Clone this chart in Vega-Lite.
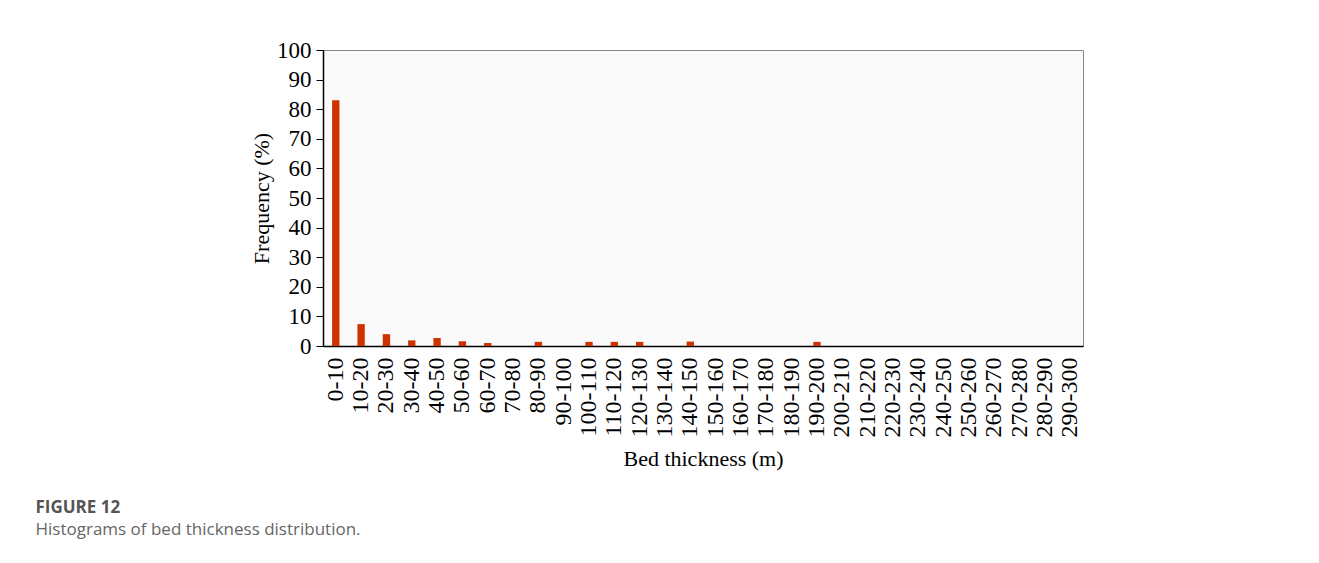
{
  "$schema": "https://vega.github.io/schema/vega-lite/v6.json",
  "width": 760,
  "height": 296,
  "autosize": {"type": "none"},
  "padding": {"left": 323, "top": 50, "right": 236, "bottom": 217},
  "background": "white",
  "data": {
    "values": [
      {"bin": "0-10", "freq": 83.0},
      {"bin": "10-20", "freq": 7.4},
      {"bin": "20-30", "freq": 4.0},
      {"bin": "30-40", "freq": 1.9},
      {"bin": "40-50", "freq": 2.7},
      {"bin": "50-60", "freq": 1.6},
      {"bin": "60-70", "freq": 1.0},
      {"bin": "70-80", "freq": 0},
      {"bin": "80-90", "freq": 1.4},
      {"bin": "90-100", "freq": 0},
      {"bin": "100-110", "freq": 1.4},
      {"bin": "110-120", "freq": 1.4},
      {"bin": "120-130", "freq": 1.4},
      {"bin": "130-140", "freq": 0},
      {"bin": "140-150", "freq": 1.5},
      {"bin": "150-160", "freq": 0},
      {"bin": "160-170", "freq": 0},
      {"bin": "170-180", "freq": 0},
      {"bin": "180-190", "freq": 0},
      {"bin": "190-200", "freq": 1.4},
      {"bin": "200-210", "freq": 0},
      {"bin": "210-220", "freq": 0},
      {"bin": "220-230", "freq": 0},
      {"bin": "230-240", "freq": 0},
      {"bin": "240-250", "freq": 0},
      {"bin": "250-260", "freq": 0},
      {"bin": "260-270", "freq": 0},
      {"bin": "270-280", "freq": 0},
      {"bin": "280-290", "freq": 0},
      {"bin": "290-300", "freq": 0}
    ]
  },
  "title": {
    "text": "FIGURE 12",
    "subtitle": "Histograms of bed thickness distribution.",
    "orient": "bottom",
    "anchor": "start",
    "frame": "bounds",
    "dx": -215,
    "offset": 30,
    "font": "Open Sans",
    "fontSize": 17,
    "fontWeight": "bold",
    "color": "#555555",
    "subtitleFont": "Open Sans",
    "subtitleFontSize": 17,
    "subtitleFontWeight": "normal",
    "subtitleColor": "#666666",
    "subtitlePadding": 5
  },
  "mark": {"type": "bar", "color": "#cc3300"},
  "encoding": {
    "x": {
      "field": "bin",
      "type": "nominal",
      "sort": null,
      "scale": {"paddingInner": 0.71, "paddingOuter": 0.36},
      "axis": {
        "title": "Bed thickness (m)",
        "labelAngle": -90,
        "labelPadding": 11,
        "ticks": false,
        "domainColor": "#000000",
        "domainWidth": 1.5,
        "labelFont": "Liberation Serif",
        "labelFontSize": 24,
        "labelColor": "#000000",
        "titleFont": "Liberation Serif",
        "titleFontSize": 22,
        "titleFontWeight": "normal",
        "titleColor": "#000000",
        "titlePadding": 12
      }
    },
    "y": {
      "field": "freq",
      "type": "quantitative",
      "scale": {"domain": [0, 100]},
      "axis": {
        "title": "Frequency (%)",
        "values": [0, 10, 20, 30, 40, 50, 60, 70, 80, 90, 100],
        "grid": false,
        "tickSize": 7,
        "tickColor": "#000000",
        "domainColor": "#000000",
        "domainWidth": 1.5,
        "labelPadding": 5,
        "labelFont": "Liberation Serif",
        "labelFontSize": 23,
        "labelColor": "#000000",
        "titleFont": "Liberation Serif",
        "titleFontSize": 22,
        "titleFontWeight": "normal",
        "titleColor": "#000000",
        "titlePadding": 3
      }
    }
  },
  "config": {
    "view": {"fill": "#fafafa", "stroke": "#888888", "strokeWidth": 1}
  }
}
